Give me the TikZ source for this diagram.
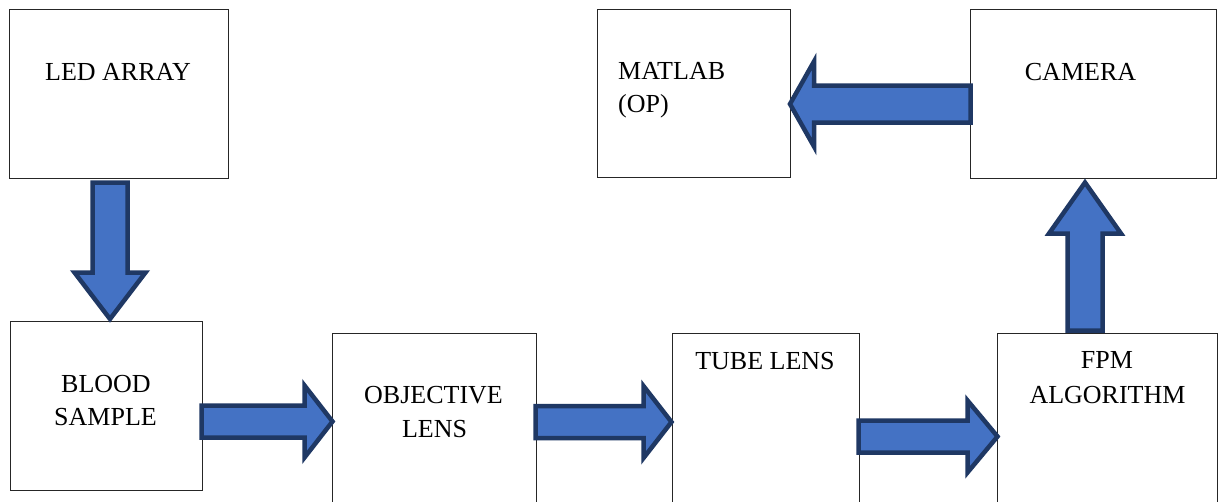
\documentclass[tikz,border=0pt]{standalone}
\usepackage{fontspec}
\setmainfont{Liberation Serif}
\usetikzlibrary{calc}
\definecolor{afill}{HTML}{4472C4}
\definecolor{aline}{HTML}{1F3864}
\tikzset{
  box/.style={draw=black!85, line width=0.9pt, rectangle, inner sep=0pt},
  lbl/.style={font=\fontsize{26}{33}\selectfont, inner sep=0pt, anchor=base},
  lblw/.style={font=\fontsize{26}{33}\selectfont, inner sep=0pt, anchor=base west},
  blk/.style n args={3}{draw=aline, fill=afill, line width=4.5pt, miter limit=10,
    to path={
      ($(\tikztostart)!#1!90:(\tikztotarget)$) --
      ($(\tikztotarget)!#3!(\tikztostart)!#1!90:(\tikztotarget)$) --
      ($(\tikztotarget)!#3!(\tikztostart)!#2!90:(\tikztotarget)$) --
      (\tikztotarget) --
      ($(\tikztotarget)!#3!(\tikztostart)!#2!-90:(\tikztotarget)$) --
      ($(\tikztotarget)!#3!(\tikztostart)!#1!-90:(\tikztotarget)$) --
      ($(\tikztostart)!#1!-90:(\tikztotarget)$) -- cycle}}
}
\begin{document}
\begin{tikzpicture}[x=1pt,y=-1pt]
\clip (0,0) rectangle (1218,501);
\fill[white] (0,0) rectangle (1218,501);
% boxes
\node[box, minimum width=218.5pt, minimum height=168.5pt] (led) at (118.75,93.75) {};
\node[box, minimum width=192pt, minimum height=169pt] (blood) at (106,405.5) {};
\node[box, minimum width=204pt, minimum height=187pt] (obj) at (434,426.5) {};
\node[box, minimum width=187pt, minimum height=187pt] (tube) at (765.5,426.5) {};
\node[box, minimum width=220pt, minimum height=187pt] (fpm) at (1107,426.5) {};
\node[box, minimum width=193pt, minimum height=168pt] (matlab) at (693.5,93) {};
\node[box, minimum width=246pt, minimum height=169pt] (camera) at (1093,93.5) {};
% labels
\node[lbl] (tled) at (118,80) {LED ARRAY};
\node[lblw] (tmat1) at (618,79) {MATLAB};
\node[lblw] (tmat2) at (618,112) {(OP)};
\node[lbl] (tcam) at (1080.5,80) {CAMERA};
\node[lbl] (tblo1) at (106,392) {BLOOD};
\node[lbl] (tblo2) at (105.5,425) {SAMPLE};
\node[lbl] (tobj1) at (433.5,403) {OBJECTIVE};
\node[lbl] (tobj2) at (434.5,437) {LENS};
\node[lbl] (ttube) at (765,369) {TUBE LENS};
\node[lbl] (tfpm1) at (1107,368) {FPM};
\node[lbl] (tfpm2) at (1107.5,403) {ALGORITHM};
% arrow ends
\coordinate (a1s) at (110,182.5);   \coordinate (a1t) at (110,319);
\coordinate (a2s) at (201.5,421.5); \coordinate (a2t) at (332.5,421.5);
\coordinate (a3s) at (535.5,422);   \coordinate (a3t) at (671.5,422);
\coordinate (a4s) at (858.5,436.5); \coordinate (a4t) at (997.5,436.5);
\coordinate (a5s) at (1085,330.5);  \coordinate (a5t) at (1085,182.5);
\coordinate (a6s) at (970.5,104);   \coordinate (a6t) at (790,104);
% block arrows
\draw[blk={17.5pt}{35.5pt}{46.5pt}] (a1s) to (a1t);
\draw[blk={16pt}{36pt}{28pt}] (a2s) to (a2t);
\draw[blk={16pt}{36pt}{28pt}] (a3s) to (a3t);
\draw[blk={16pt}{36pt}{30pt}] (a4s) to (a4t);
\draw[blk={17.5pt}{36pt}{51pt}] (a5s) to (a5t);
\draw[blk={18.5pt}{42.5pt}{24pt}] (a6s) to (a6t);
\end{tikzpicture}
\end{document}
